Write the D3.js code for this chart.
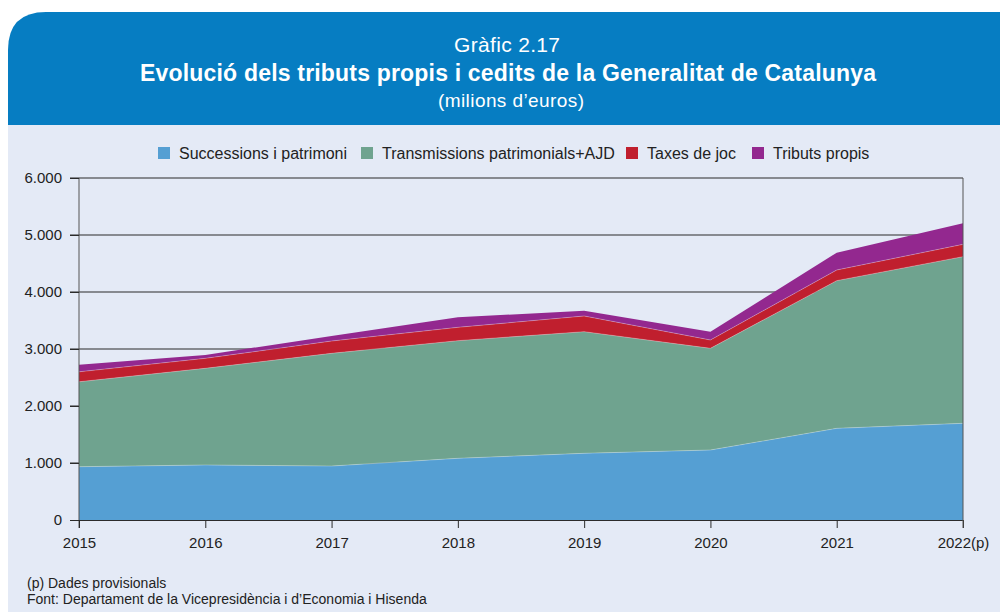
<!DOCTYPE html>
<html>
<head>
<meta charset="utf-8">
<script src="https://cdn.jsdelivr.net/npm/d3@7"></script>
<style>
  body { margin: 0; background: #fff; }
  svg text { font-family: "Liberation Sans", Arial, sans-serif; }
</style>
</head>
<body>
<svg id="chart" width="1000" height="612"></svg>
<script>
// values in millions of euros
const years = ["2015", "2016", "2017", "2018", "2019", "2020", "2021", "2022(p)"];
const successions = [935, 965, 947, 1082, 1170, 1228, 1608, 1696];
const transmissions = [1490, 1696, 1977, 2064, 2134, 1784, 2591, 2924];
const taxesJoc = [175, 175, 216, 234, 275, 146, 187, 216];
const tributsPropis = [125, 60, 88, 176, 94, 146, 304, 369];
const seriesNames = ["Successions i patrimoni", "Transmissions patrimonials+AJD", "Taxes de joc", "Tributs propis"];
const yTicks = [0, 1000, 2000, 3000, 4000, 5000, 6000];
const colors = ["#559fd3", "#6fa38f", "#c01f2e", "#93288f"];

const svg = d3.select("#chart");

// header card + background
svg.append("path")
    .attr("d", "M8,125 L8,50 Q8,12 46,12 L1000,12 L1000,125 Z")
    .attr("fill", "#067dc2");
svg.append("rect")
    .attr("x", 8).attr("y", 125)
    .attr("width", 992).attr("height", 487)
    .attr("fill", "#e4eaf6");

svg.append("text")
    .attr("x", 507).attr("y", 52)
    .attr("text-anchor", "middle")
    .attr("fill", "#fff")
    .style("font-size", "21px")
    .attr("textLength", 106)
    .text("Gràfic 2.17");
svg.append("text")
    .attr("x", 508).attr("y", 81)
    .attr("text-anchor", "middle")
    .attr("fill", "#fff")
    .style("font-size", "23px")
    .style("font-weight", "bold")
    .attr("textLength", 736)
    .text("Evolució dels tributs propis i cedits de la Generalitat de Catalunya");
svg.append("text")
    .attr("x", 511).attr("y", 107)
    .attr("text-anchor", "middle")
    .attr("fill", "#fff")
    .style("font-size", "19px")
    .attr("textLength", 146)
    .text("(milions d\u2019euros)");

// scales
const x = d3.scalePoint()
    .domain(years)
    .range([79, 963]);
const y = d3.scaleLinear()
    .domain([0, 6000])
    .range([520, 178]);

const fmt = d3.formatLocale({ decimal: ",", thousands: ".", grouping: [3], currency: ["", "€"] }).format(",.0f");

// gridlines
svg.append("g")
    .selectAll("line")
    .data(yTicks.filter(d => d > 0))
    .join("line")
    .attr("x1", 70).attr("x2", 963)
    .attr("y1", d => y(d)).attr("y2", d => y(d))
    .attr("stroke", "#2b2b2b")
    .attr("stroke-width", 1);

// stacked areas
const table = years.map((yr, i) => ({
    year: yr,
    s0: successions[i],
    s1: transmissions[i],
    s2: taxesJoc[i],
    s3: tributsPropis[i]
}));
const stack = d3.stack().keys(["s0", "s1", "s2", "s3"]);
const layers = stack(table);

const area = d3.area()
    .x(d => x(d.data.year))
    .y0(d => y(d[0]))
    .y1(d => y(d[1]));
const topLine = d3.line()
    .x(d => x(d.data.year))
    .y(d => y(d[1]));

svg.append("g")
    .selectAll("path")
    .data(layers)
    .join("path")
    .attr("d", area)
    .attr("fill", (d, i) => colors[i]);

svg.append("g")
    .selectAll("path")
    .data(layers.slice(0, 3))
    .join("path")
    .attr("d", topLine)
    .attr("fill", "none")
    .attr("stroke", "rgba(255,255,255,0.35)")
    .attr("stroke-width", 0.8);

// axes
const yAxis = svg.append("g")
    .attr("transform", "translate(79,0)")
    .call(d3.axisLeft(y).tickValues(yTicks).tickFormat(fmt).tickSize(9).tickSizeOuter(0).tickPadding(8));
yAxis.select(".domain").attr("stroke", "#555").attr("d", "M0,178V528");
yAxis.selectAll(".tick line").attr("stroke", "#2b2b2b");
yAxis.selectAll("text").attr("fill", "#222").style("font-size", "15px");

const xAxis = svg.append("g")
    .attr("transform", "translate(0,520)")
    .call(d3.axisBottom(x).tickSize(8).tickSizeOuter(0).tickPadding(9));
xAxis.select(".domain").attr("stroke", "#2b2b2b");
xAxis.selectAll(".tick line").attr("stroke", "#2b2b2b");
xAxis.selectAll("text").attr("fill", "#222").style("font-size", "15px");

// right frame
svg.append("line")
    .attr("x1", 963).attr("x2", 963)
    .attr("y1", 178).attr("y2", 528)
    .attr("stroke", "#555");

// legend
const legendX = [158, 361, 626, 752];
const legend = svg.append("g")
    .selectAll("g")
    .data(seriesNames)
    .join("g")
    .attr("transform", (d, i) => `translate(${legendX[i]},147)`);
legend.append("rect")
    .attr("width", 12).attr("height", 12)
    .attr("fill", (d, i) => colors[i]);
legend.append("text")
    .attr("x", 21).attr("y", 12)
    .attr("fill", "#222")
    .style("font-size", "16px")
    .text(d => d);

// footnotes
svg.append("text")
    .attr("x", 27).attr("y", 588)
    .attr("fill", "#222")
    .style("font-size", "14px")
    .text("(p) Dades provisionals");
svg.append("text")
    .attr("x", 27).attr("y", 604)
    .attr("fill", "#222")
    .style("font-size", "14px")
    .text("Font: Departament de la Vicepresidència i d\u2019Economia i Hisenda");
</script>
</body>
</html>
